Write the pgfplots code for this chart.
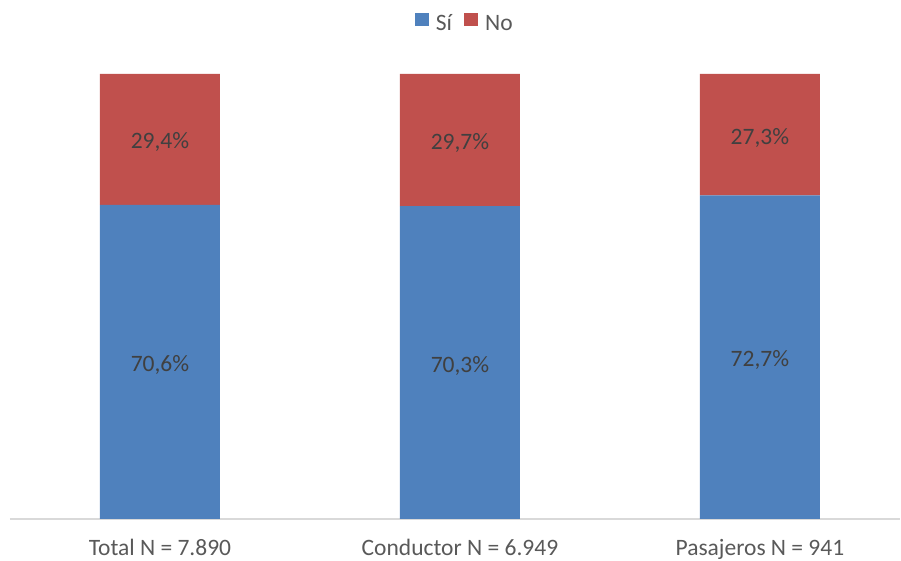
\documentclass[border=0pt]{standalone}
\usepackage{pgfplots}
\usepackage{pgfplotstable}
\pgfplotsset{compat=1.18}
\usepackage{fontspec}
\setmainfont{Carlito}
\definecolor{cblue}{HTML}{4F81BD}
\definecolor{cred}{HTML}{C0504D}
\definecolor{txt}{HTML}{404040}
\definecolor{tickc}{HTML}{595959}
\definecolor{axl}{HTML}{D9D9D9}
\pgfplotstableread{
x si no
0 70.6 29.4
1 70.3 29.7
2 72.7 27.3
}\datatable
\newcommand{\fs}{\fontsize{23.5}{28}\selectfont}
\begin{document}
\begin{tikzpicture}
\begin{axis}[
  scale only axis, width=890pt, height=445pt,
  ybar stacked, bar width=120pt,
  xmin=-0.5, xmax=2.467, ymin=0, ymax=100,
  axis y line=none,
  axis x line=bottom,
  x axis line style={draw=axl, line width=1.3pt, -},
  xtick={0,1,2},
  xticklabels={Total N = 7.890, Conductor N = 6.949, Pasajeros N = 941},
  major tick length=0pt,
  xticklabel style={anchor=base, yshift=-37pt, text=tickc, font=\fs, inner sep=0pt},
  point meta=explicit,
  nodes near coords={\pgfmathprintnumber[fixed,fixed zerofill,precision=1,use comma,assume math mode=true]{\pgfplotspointmeta}\%},
  every node near coord/.append style={anchor=center, text=txt, font=\fs, yshift=-3pt},
  legend style={at={(0.511,1.114)}, anchor=center, draw=none, fill=none,
    font=\fs, text=tickc, legend columns=2,
    /tikz/every even column/.append style={column sep=10pt}},
  legend image code/.code={\fill[#1] (0pt,-3pt) rectangle (14pt,10pt); \path (19pt,0pt);},
]
\addplot[fill=cblue, draw=none] table[x=x, y=si, meta=si] {\datatable};
\addlegendentry{Sí}
\addplot[fill=cred, draw=none] table[x=x, y=no, meta=no] {\datatable};
\addlegendentry{No}
\end{axis}
\pgfresetboundingbox
\useasboundingbox ([shift={(-10pt,-42pt)}]current axis.south west) rectangle ([shift={(1pt,74pt)}]current axis.north east);
\end{tikzpicture}
\end{document}
